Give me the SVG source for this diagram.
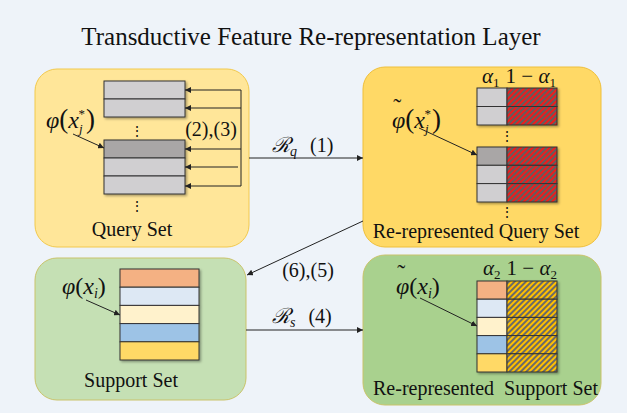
<svg xmlns="http://www.w3.org/2000/svg" width="627" height="413" viewBox="0 0 627 413">
<defs>
<style>
.t{font-family:"Liberation Serif","Times New Roman",serif;fill:#111}
.m{font-family:"Liberation Serif","Times New Roman",serif;font-style:italic;fill:#111}
.n{font-style:normal}
.ln{stroke:#222;stroke-width:1;fill:none}
.cell{stroke:#333;stroke-width:1}
.box{stroke-width:1}
</style>
<marker id="ah" viewBox="0 0 6 6" refX="6" refY="3" markerWidth="6" markerHeight="6" markerUnits="userSpaceOnUse" orient="auto">
<path d="M0,0 L6,3 L0,6 z" fill="#222"/>
</marker>
<pattern id="hr" width="4" height="4" patternUnits="userSpaceOnUse" patternTransform="rotate(45)">
<rect width="4" height="4" fill="#5f5f5f"/><rect width="2" height="4" fill="#ee1c1c"/>
</pattern>
<pattern id="hy" width="4" height="4" patternUnits="userSpaceOnUse" patternTransform="rotate(45)">
<rect width="4" height="4" fill="#6a6a6a"/><rect width="2" height="4" fill="#ffc000"/>
</pattern>
<filter id="sh" x="-10%" y="-10%" width="130%" height="130%">
<feDropShadow dx="1.5" dy="1.5" stdDeviation="1" flood-color="#000" flood-opacity="0.35"/>
</filter>
</defs>
<rect width="627" height="413" fill="#eef3f9"/>
<text class="t" x="311" y="45" font-size="25" text-anchor="middle">Transductive Feature Re-representation Layer</text>

<g id="query-set">
<rect class="box" x="35" y="69" width="214" height="178" rx="22" fill="#ffe699" stroke="#f2c94c"/>
<g filter="url(#sh)">
<rect class="cell" x="104" y="81" width="81" height="18" fill="#d0cfd1"/>
<rect class="cell" x="104" y="99" width="81" height="18" fill="#d0cfd1"/>
<rect class="cell" x="104" y="140" width="81" height="18" fill="#a9a6a6"/>
<rect class="cell" x="104" y="158" width="81" height="18" fill="#d0cfd1"/>
<rect class="cell" x="104" y="176" width="81" height="18" fill="#d0cfd1"/>
</g>
<text class="t" x="137" y="136" font-size="14" text-anchor="middle">⋮</text>
<text class="t" x="137" y="211" font-size="14" text-anchor="middle">⋮</text>
<path class="ln" d="M241,90 V186"/>
<path class="ln" d="M241,90 H185" marker-end="url(#ah)"/>
<path class="ln" d="M241,108 H185" marker-end="url(#ah)"/>
<path class="ln" d="M241,149 H185" marker-end="url(#ah)"/>
<path class="ln" d="M238,167 H185" marker-end="url(#ah)"/>
<path class="ln" d="M241,186 H185" marker-end="url(#ah)"/>
<text class="t" x="211" y="136" font-size="20" text-anchor="middle">(2),(3)</text>
<text class="m" x="46" y="128" font-size="24">φ<tspan class="n" font-size="27">(</tspan>x<tspan font-size="13" dy="5">j</tspan><tspan class="n" font-size="13" dx="-4" dy="-15">*</tspan><tspan class="n" font-size="27" dx="1" dy="10">)</tspan></text>
<path class="ln" d="M73,134 L104,148" marker-end="url(#ah)"/>
<text class="t" x="132" y="236" font-size="20" text-anchor="middle">Query Set</text>
</g>

<g id="rerep-query-set">
<rect class="box" x="363" y="67" width="238" height="180" rx="22" fill="#ffd966" stroke="#efbf3a"/>
<g filter="url(#sh)">
<rect class="cell" x="477" y="88" width="30" height="18.5" fill="#d0cfd1"/>
<rect class="cell" x="477" y="106.5" width="30" height="18.5" fill="#d0cfd1"/>
<rect class="cell" x="477" y="147" width="30" height="18.3" fill="#a9a6a6"/>
<rect class="cell" x="477" y="165.3" width="30" height="18.3" fill="#d0cfd1"/>
<rect class="cell" x="477" y="183.6" width="30" height="18.4" fill="#d0cfd1"/>
<rect class="cell" x="507" y="88" width="50" height="18.5" fill="url(#hr)"/>
<rect class="cell" x="507" y="106.5" width="50" height="18.5" fill="url(#hr)"/>
<rect class="cell" x="507" y="147" width="50" height="18.3" fill="url(#hr)"/>
<rect class="cell" x="507" y="165.3" width="50" height="18.3" fill="url(#hr)"/>
<rect class="cell" x="507" y="183.6" width="50" height="18.4" fill="url(#hr)"/>
</g>
<text class="t" x="507" y="141" font-size="14" text-anchor="middle">⋮</text>
<text class="t" x="507" y="217" font-size="14" text-anchor="middle">⋮</text>
<text class="m" x="482" y="83" font-size="21">α<tspan class="n" font-size="13" dy="4">1</tspan><tspan class="n" dx="6" dy="-4">1 − </tspan>α<tspan class="n" font-size="13" dy="4">1</tspan></text>
<text class="m" x="392" y="128" font-size="24">φ<tspan class="n" font-size="24" dx="-12" dy="-13">˜</tspan><tspan class="n" font-size="27" dx="4" dy="13">(</tspan>x<tspan font-size="13" dy="5">j</tspan><tspan class="n" font-size="13" dx="-4" dy="-15">*</tspan><tspan class="n" font-size="27" dx="1" dy="10">)</tspan></text>
<path class="ln" d="M419,128 L477,155" marker-end="url(#ah)"/>
<text class="t" x="476" y="238" font-size="20" text-anchor="middle">Re-represented Query Set</text>
</g>

<g id="support-set">
<rect class="box" x="35" y="258" width="211" height="142" rx="22" fill="#c5e0b4" stroke="#c9c36a"/>
<g filter="url(#sh)">
<rect class="cell" x="120" y="269" width="79" height="18.2" fill="#f4b183"/>
<rect class="cell" x="120" y="287.2" width="79" height="18.2" fill="#dde8f4"/>
<rect class="cell" x="120" y="305.4" width="79" height="18.2" fill="#fff2cc"/>
<rect class="cell" x="120" y="323.6" width="79" height="18.2" fill="#9dc3e6"/>
<rect class="cell" x="120" y="341.8" width="79" height="18.2" fill="#ffd966"/>
</g>
<text class="m" x="62" y="294" font-size="24">φ<tspan class="n">(</tspan>x<tspan font-size="14" dy="4">i</tspan><tspan class="n" dy="-4">)</tspan></text>
<path class="ln" d="M86,300 L120,315" marker-end="url(#ah)"/>
<text class="t" x="131" y="387" font-size="20" text-anchor="middle">Support Set</text>
</g>

<g id="rerep-support-set">
<rect class="box" x="363" y="255" width="238" height="150" rx="22" fill="#a9d18e" stroke="#c9c36a"/>
<g filter="url(#sh)">
<rect class="cell" x="477" y="281" width="30" height="18.2" fill="#f4b183"/>
<rect class="cell" x="477" y="299.2" width="30" height="18.2" fill="#dde8f4"/>
<rect class="cell" x="477" y="317.4" width="30" height="18.2" fill="#fff2cc"/>
<rect class="cell" x="477" y="335.6" width="30" height="18.2" fill="#9dc3e6"/>
<rect class="cell" x="477" y="353.8" width="30" height="18.2" fill="#ffd966"/>
<rect class="cell" x="507" y="281" width="50" height="18.2" fill="url(#hy)"/>
<rect class="cell" x="507" y="299.2" width="50" height="18.2" fill="url(#hy)"/>
<rect class="cell" x="507" y="317.4" width="50" height="18.2" fill="url(#hy)"/>
<rect class="cell" x="507" y="335.6" width="50" height="18.2" fill="url(#hy)"/>
<rect class="cell" x="507" y="353.8" width="50" height="18.2" fill="url(#hy)"/>
</g>
<text class="m" x="483" y="275" font-size="21">α<tspan class="n" font-size="13" dy="4">2</tspan><tspan class="n" dx="6" dy="-4">1 − </tspan>α<tspan class="n" font-size="13" dy="4">2</tspan></text>
<text class="m" x="396" y="294" font-size="24">φ<tspan class="n" font-size="24" dx="-12" dy="-13">˜</tspan><tspan class="n" dx="4" dy="13">(</tspan>x<tspan font-size="14" dy="4">i</tspan><tspan class="n" dy="-4">)</tspan></text>
<path class="ln" d="M420,298 L477,326" marker-end="url(#ah)"/>
<text class="t" x="373" y="395" font-size="20" style="white-space:pre">Re-represented  Support Set</text>
</g>

<g id="connectors">
<path class="ln" d="M249,158 H363" marker-end="url(#ah)"/>
<text class="m" x="272" y="152" font-size="21">ℛ<tspan font-size="14" dy="4">q</tspan><tspan class="n" font-size="20" dx="13" dy="-4">(1)</tspan></text>
<path class="ln" d="M363,221 L247,275" marker-end="url(#ah)"/>
<text class="t" x="308" y="277" font-size="20" text-anchor="middle">(6),(5)</text>
<path class="ln" d="M246,330 H363" marker-end="url(#ah)"/>
<text class="m" x="272" y="323" font-size="21">ℛ<tspan font-size="14" dy="4">s</tspan><tspan class="n" font-size="20" dx="13" dy="-4">(4)</tspan></text>
</g>
</svg>
